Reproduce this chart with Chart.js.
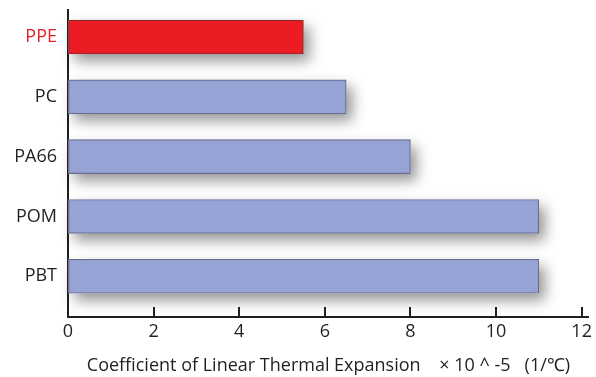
<!DOCTYPE html>
<html>
<head>
<meta charset="utf-8">
<script src="https://cdn.jsdelivr.net/npm/chart.js@4/dist/chart.umd.min.js"></script>
<style>
  html, body { margin: 0; padding: 0; background: #ffffff; }
  #wrap { width: 596px; height: 377px; position: relative; }
</style>
</head>
<body>
<div id="wrap"><canvas id="c"></canvas></div>
<script>
// Materials and their coefficient of linear thermal expansion (×10^-5 1/℃)
const materials = ['PPE', 'PC', 'PA66', 'POM', 'PBT'];
const expansion = [5.5, 6.5, 8, 11, 11];
const xTicks = [0, 2, 4, 6, 8, 10, 12];
const axisTitle = 'Coefficient of Linear Thermal Expansion    \u00d7 10 ^ -5   (1/\u2103)';

const FONT = '"Open Sans", sans-serif';
const INK = '#231f20';
const RED = '#ec1c24';

// soft drop shadow painted under each bar before the bars themselves
const barShadow = {
  id: 'barShadow',
  beforeDatasetsDraw(chart) {
    const ctx = chart.ctx;
    const meta = chart.getDatasetMeta(0);
    ctx.save();
    ctx.shadowColor = 'rgba(0,0,0,0.42)';
    ctx.shadowBlur = 14;
    ctx.shadowOffsetX = 6;
    ctx.shadowOffsetY = 7;
    ctx.fillStyle = '#ffffff';
    meta.data.forEach(bar => {
      const { x, y, base, height } = bar.getProps(['x', 'y', 'base', 'height'], true);
      const left = Math.min(x, base);
      ctx.fillRect(left, y - height / 2, Math.abs(x - base), height);
    });
    ctx.restore();
  }
};

// short tick marks pointing up from the x axis
const innerTicks = {
  id: 'innerTicks',
  afterDraw(chart) {
    const ctx = chart.ctx;
    const xs = chart.scales.x;
    const bottom = chart.chartArea.bottom;
    ctx.save();
    ctx.strokeStyle = INK;
    ctx.lineWidth = 2;
    xs.ticks.forEach(t => {
      if (t.value === 0) return;
      const px = Math.round(xs.getPixelForValue(t.value));
      ctx.beginPath();
      ctx.moveTo(px, bottom - 10);
      ctx.lineTo(px, bottom);
      ctx.stroke();
    });
    ctx.restore();
  }
};

const points = materials.map((m, i) => ({ x: expansion[i], y: i }));

new Chart(document.getElementById('c'), {
  type: 'bar',
  data: {
    datasets: [{
      data: points,
      backgroundColor: materials.map((m, i) => i === 0 ? RED : '#97a3d4'),
      borderColor: materials.map((m, i) => i === 0 ? '#8c2a2c' : '#666c92'),
      borderWidth: 1.2,
      borderSkipped: false,
      barThickness: 34
    }]
  },
  plugins: [barShadow, innerTicks],
  options: {
    indexAxis: 'y',
    responsive: true,
    maintainAspectRatio: false,
    animation: false,
    layout: { padding: { top: 10, right: 5, left: 0, bottom: 0 } },
    plugins: { legend: { display: false }, tooltip: { enabled: false } },
    scales: {
      x: {
        type: 'linear',
        min: 0,
        max: 12.17,
        afterBuildTicks(scale) { scale.ticks = xTicks.map(v => ({ value: v })); },
        afterFit(scale) { scale.height = 60; },
        grid: { display: true, drawOnChartArea: false, drawTicks: false },
        border: { display: true, color: INK, width: 2 },
        ticks: { color: INK, padding: 4, font: { family: FONT, size: 18 } },
        title: {
          display: true,
          text: axisTitle,
          color: INK,
          font: { family: FONT, size: 18 },
          padding: { top: 6, bottom: 0 }
        }
      },
      y: {
        type: 'linear',
        reverse: true,
        offset: false,
        min: -0.452,
        max: 4.681,
        afterBuildTicks(scale) { scale.ticks = materials.map((m, i) => ({ value: i })); },
        afterFit(scale) {
          scale.width = 68;
          scale.paddingTop = 0;
          scale.paddingBottom = 0;
        },
        grid: { display: true, drawOnChartArea: false, drawTicks: false, offset: false },
        border: { display: true, color: INK, width: 2 },
        ticks: {
          padding: 11,
          font: { family: FONT, size: 18 },
          color: (c) => (c.tick && c.tick.value === 0) ? RED : INK,
          callback: (v) => materials[v]
        }
      }
    }
  }
});
</script>
</body>
</html>
